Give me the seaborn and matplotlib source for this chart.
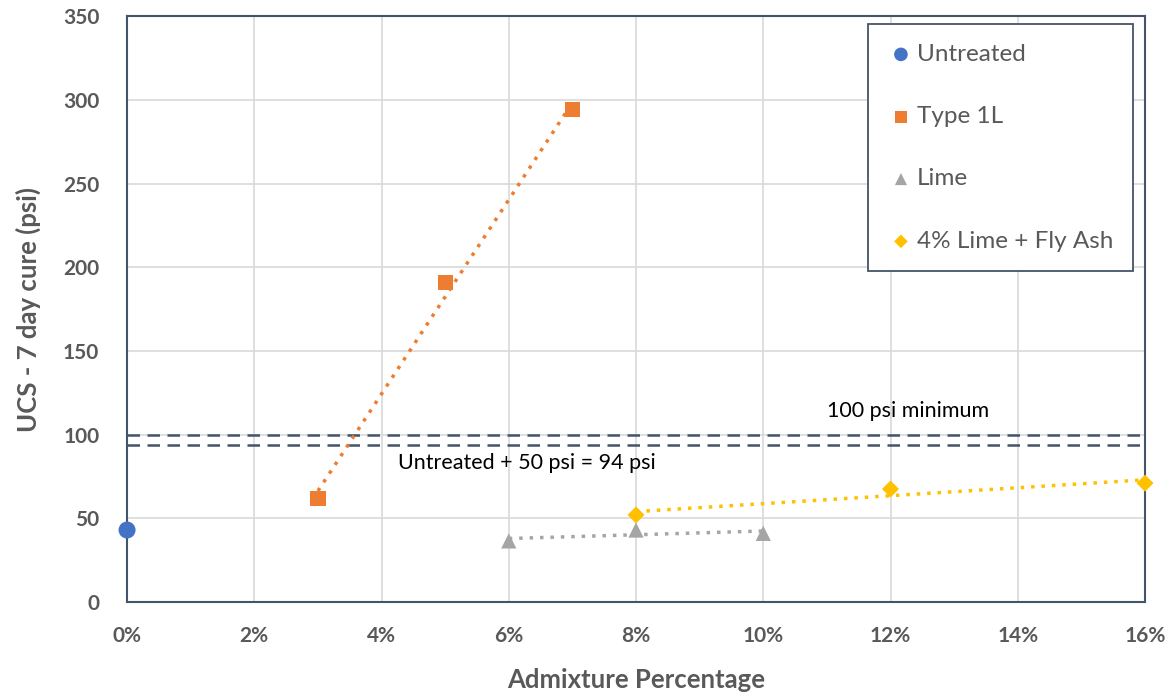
import numpy as np
import pandas as pd
import matplotlib
matplotlib.use("Agg")
import matplotlib.pyplot as plt
import seaborn as sns
from matplotlib.ticker import FuncFormatter, MultipleLocator

# ---- data ----
untreated_x = [0]
untreated_y = [43]
type1l_x = [3, 5, 7]
type1l_y = [62, 191, 294]
lime_x = [6, 8, 10]
lime_y = [36.5, 43, 41]
flyash_x = [8, 12, 16]
flyash_y = [52, 67.5, 71]
min_line = 100
untreated_line = 94
labels = ["Untreated", "Type 1L", "Lime", "4% Lime + Fly Ash"]

sns.set_theme(style="white")
plt.rcParams['font.family'] = ['Lato', 'DejaVu Sans']

fig = plt.figure(figsize=(11.71, 7.0), dpi=100)
ax = fig.add_axes([0.1085, 0.14, 0.8693, 0.837])

navy = "#44546A"
gray_txt = "#595959"
colors = ["#4472C4", "#ED7D31", "#A5A5A5", "#FFC000"]
markers = ["o", "s", "^", "D"]
sizes = [150, 120, 120, 75]

series = [(untreated_x, untreated_y), (type1l_x, type1l_y),
          (lime_x, lime_y), (flyash_x, flyash_y)]

# trendlines
for (xs, ys), c in zip(series[1:], colors[1:]):
    xs = np.array(xs, float); ys = np.array(ys, float)
    m, b = np.polyfit(xs, ys, 1)
    xf = np.array([xs.min(), xs.max()])
    df = pd.DataFrame({"x": xf, "y": m * xf + b})
    sns.lineplot(data=df, x="x", y="y", ax=ax, color=c, lw=2.5,
                 linestyle=(0, (1, 2)), label="_nolegend_", zorder=3)

# horizontal reference lines
ax.axhline(min_line, color=navy, lw=1.8, ls=(0, (5, 3)), zorder=2)
ax.axhline(untreated_line, color=navy, lw=1.8, ls=(0, (5, 3)), zorder=2)

for (xs, ys), c, mk, s, lab in zip(series, colors, markers, sizes, labels):
    df = pd.DataFrame({"x": xs, "y": ys})
    sns.scatterplot(data=df, x="x", y="y", ax=ax, color=c, marker=mk, s=s,
                    edgecolor="none", label=lab, zorder=4, clip_on=False)

ax.text(11.0, 114, "100 psi minimum", fontsize=15.5, color="black", ha="left", va="center")
ax.text(4.26, 83, "Untreated + 50 psi = 94 psi", fontsize=15.5, color="black", ha="left", va="center")

ax.set_xlim(0, 16)
ax.set_ylim(0, 350)
ax.xaxis.set_major_locator(MultipleLocator(2))
ax.yaxis.set_major_locator(MultipleLocator(50))
ax.xaxis.set_major_formatter(FuncFormatter(lambda v, p: f"{int(round(v))}%"))
ax.grid(True, color="#D9D9D9", lw=1.2)
ax.set_axisbelow(True)
for sp in ax.spines.values():
    sp.set_color(navy)
    sp.set_linewidth(1.5)
    sp.set_visible(True)

ax.tick_params(axis="both", length=0, labelsize=15, labelcolor=gray_txt)
ax.tick_params(axis="x", pad=17)
ax.tick_params(axis="y", pad=20)
for t in ax.get_xticklabels() + ax.get_yticklabels():
    t.set_fontweight("bold")

ax.set_xlabel("Admixture Percentage", fontsize=18.5, fontweight="bold", color=gray_txt, labelpad=16)
ax.set_ylabel("UCS - 7 day cure (psi)", fontsize=18.5, fontweight="bold", color=gray_txt, labelpad=16)

handles, labs = ax.get_legend_handles_labels()
leg = ax.legend(handles, labs, loc="upper left", bbox_to_anchor=(0.728, 0.986),
                borderaxespad=0,
                frameon=True, fancybox=False, fontsize=17.5, labelspacing=1.7,
                handletextpad=0.1, borderpad=0.8, markerscale=0.8, handlelength=1.1,
                edgecolor=navy, facecolor="white", framealpha=1)
leg.get_frame().set_linewidth(1.3)
for t in leg.get_texts():
    t.set_color(gray_txt)

fig.savefig("out.png", dpi=100, facecolor="white")
